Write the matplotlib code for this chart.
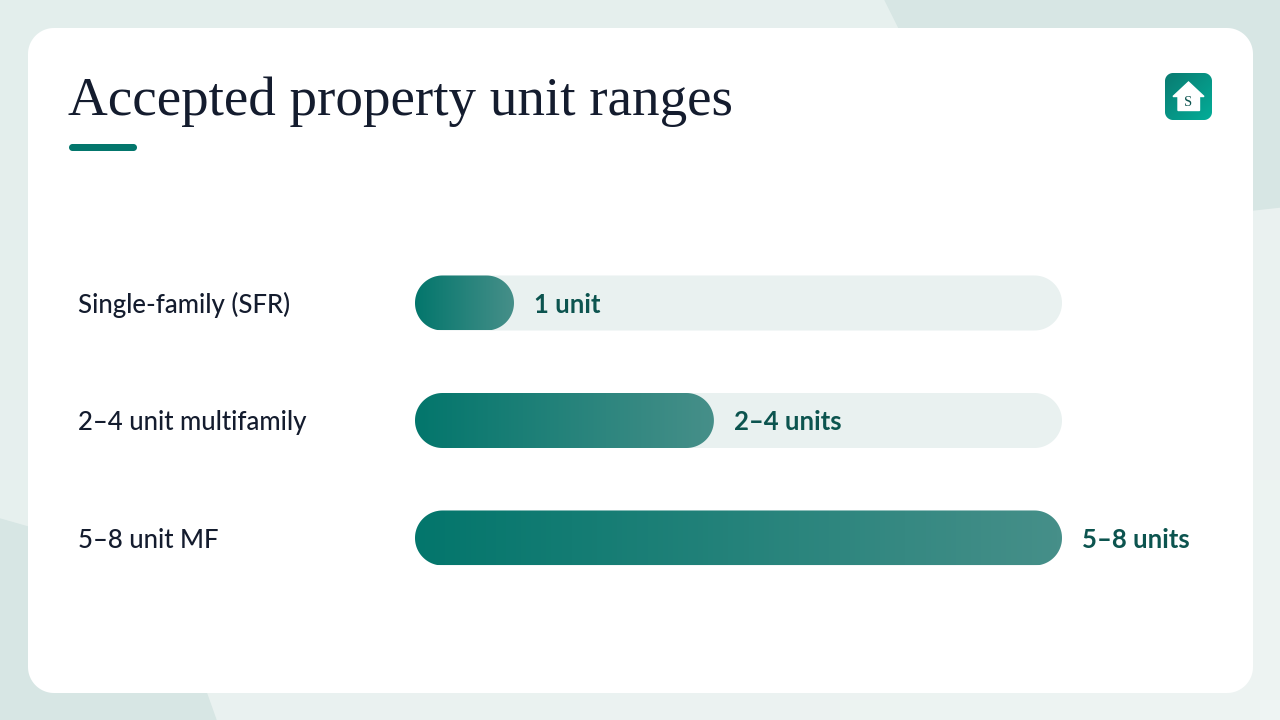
import matplotlib

matplotlib.use("Agg")
import matplotlib.pyplot as plt
import numpy as np
from matplotlib.colors import LinearSegmentedColormap
from matplotlib.patches import Polygon, Rectangle

CATEGORIES = ["Single-family (SFR)", "2–4 unit multifamily", "5–8 unit MF"]
VALUE_LABELS = ["1 unit", "2–4 units", "5–8 units"]
SHARES = [15.3, 46.2, 100.0]
TITLE = "Accepted property unit ranges"

W, H = 1280, 720
BG_DARK = "#D7E6E4"
TRACK = "#E9F1F0"
INK = "#141C2E"
TEAL_TEXT = "#0C544F"
TEAL = "#03766C"
TEAL_END = "#468F89"

plt.rcParams["font.family"] = ["Lato", "DejaVu Sans"]


def rounded(x, y, width, height, radius, sx=1.0, sy=1.0, **kw):
    # true circular corners; sx/sy are data units per pixel
    t = np.linspace(0, np.pi / 2, 24)
    rx, ry = radius * sx, radius * sy
    c, s = np.cos(t), np.sin(t)
    xs = np.r_[x + width - rx + rx * c, x + rx - rx * s, x + rx - rx * c, x + width - rx + rx * s]
    ys = np.r_[y + ry - ry * s, y + ry - ry * c, y + height - ry + ry * s, y + height - ry + ry * c]
    return Polygon(np.c_[xs, ys], closed=True, ec="none", **kw)


fig = plt.figure(figsize=(W / 100, H / 100), dpi=100)

# page layer, in pixel coordinates
bg = fig.add_axes([0, 0, 1, 1])
bg.axis("off")
page_cmap = LinearSegmentedColormap.from_list("page", ["#E3EEEC", "#EEF4F3"])
xx, yy = np.meshgrid(np.linspace(0, 1, 64), np.linspace(0, 1, 36))
bg.imshow(xx * 0.5 + yy * 0.5, cmap=page_cmap, extent=(0, W, H, 0), aspect="auto", zorder=0)
bg.add_patch(Polygon([(885, 0), (1280, 0), (1280, 207), (1253, 210), (940, 232), (905, 40)], color=BG_DARK, zorder=1))
bg.add_patch(
    Polygon(
        [(0, 519), (28, 527), (60, 538), (120, 570), (170, 620), (200, 675), (216, 720), (0, 720)],
        color=BG_DARK,
        zorder=1,
    )
)
bg.add_patch(rounded(28, 28, 1225, 665, 26, fc="white", zorder=2))
bg.text(68, 115, TITLE, family="Liberation Serif", fontsize=39.7, color=INK, va="baseline", zorder=3)
bg.add_patch(rounded(69, 144, 68, 7, 3.5, fc=TEAL, zorder=3))

# logo
icon_cmap = LinearSegmentedColormap.from_list("icon", ["#0A7B71", "#03AD98"])
ix, iy = np.meshgrid(np.linspace(0, 1, 48), np.linspace(0, 1, 48))
icon = bg.imshow(ix * 0.5 + iy * 0.5, cmap=icon_cmap, extent=(1165, 1212, 120, 73), aspect="auto", zorder=3)
icon_box = rounded(1165, 73, 47, 47, 8, fc="none", zorder=3)
bg.add_patch(icon_box)
icon.set_clip_path(icon_box)
bg.add_patch(
    Polygon(
        [(1188.5, 82), (1204, 96.5), (1199.5, 96.5), (1199.5, 110.5), (1178, 110.5), (1178, 96.5), (1173, 96.5)],
        color="white",
        zorder=4,
    )
)
bg.text(1188.5, 102.5, "S", family="Liberation Serif", fontsize=10.5, color="#0C544F",
        ha="center", va="center", zorder=5)
bg.set_xlim(0, W)
bg.set_ylim(H, 0)

# bars: x axis spans the track, one y unit per row
ROW_PX = 117.5
BAR_PX = 55
top_px = 303 - ROW_PX / 2
ax = fig.add_axes([415 / W, 1 - (top_px + 3 * ROW_PX) / H, 647 / W, 3 * ROW_PX / H])
ax.patch.set_visible(False)
ax.axis("off")

px_x = 100 / 647
px_y = 1 / ROW_PX
bar_h = BAR_PX * px_y
bar_cmap = LinearSegmentedColormap.from_list("bar", [TEAL, TEAL_END])


def pill(share, row, **kw):
    return rounded(0, row - bar_h / 2, share, bar_h, BAR_PX / 2, px_x, px_y, clip_on=False, **kw)


for i, (cat, share, lab) in enumerate(zip(CATEGORIES, SHARES, VALUE_LABELS)):
    ax.add_patch(pill(100, i, fc=TRACK, zorder=1))
    box = pill(share, i, fc="none", zorder=2)
    ax.add_patch(box)
    im = ax.imshow(
        np.linspace(0, 1, 128).reshape(1, -1),
        cmap=bar_cmap,
        extent=(0, share, i + bar_h / 2, i - bar_h / 2),
        aspect="auto",
        zorder=2,
    )
    im.set_clip_path(box)
    ax.annotate(lab, (share, i), xytext=(20, -2), textcoords="offset pixels", fontsize=18.5,
                weight="bold", color=TEAL_TEXT, va="center", ha="left", zorder=3,
                annotation_clip=False)
    ax.annotate(cat, (0, i), xytext=(-337, -2), textcoords="offset pixels", fontsize=18.5,
                weight="medium", color=INK, va="center", ha="left", zorder=3, annotation_clip=False)

ax.set_xlim(0, 100)
ax.set_ylim(2.5, -0.5)

fig.savefig("out.png", dpi=100)
